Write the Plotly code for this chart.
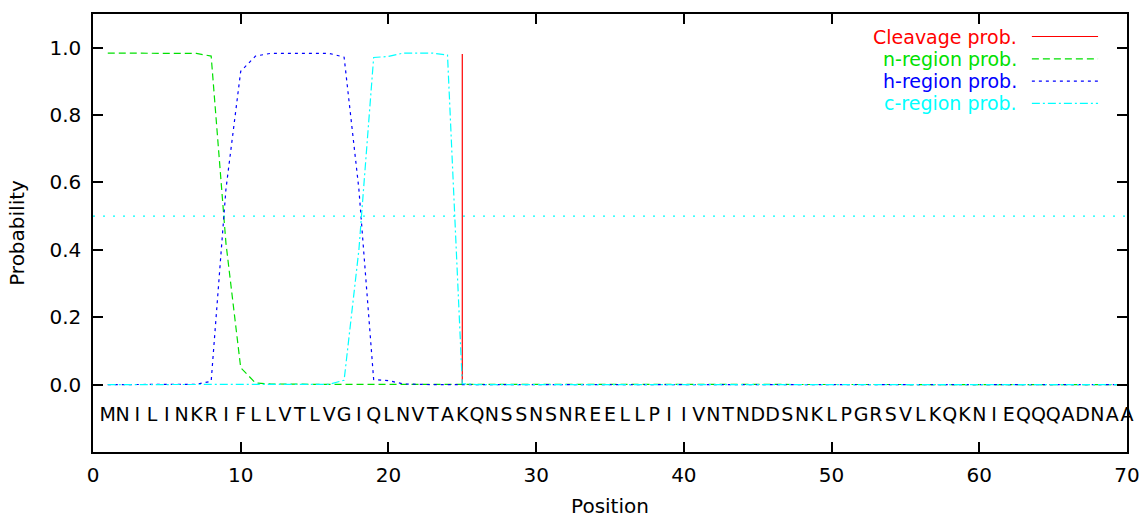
import plotly.graph_objects as go

# ---------------- data ----------------
sequence = "MNILINKRIFLLVTLVGIQLNVTAKQNSSNSNREELLPIIVNTNDDSNKLPGRSVLKQKNIEQQQADNAA"
positions = list(range(1, 71))

cleavage = [0.0, 0.0, 0.0, 0.0, 0.0, 0.0, 0.0, 0.0, 0.0, 0.0,
            0.0, 0.0, 0.0, 0.0, 0.0, 0.0, 0.0, 0.0, 0.0, 0.0,
            0.0, 0.0, 0.0, 0.0, 0.981, 0.0, 0.0, 0.0, 0.0, 0.0,
            0.0, 0.0, 0.0, 0.0, 0.0, 0.0, 0.0, 0.0, 0.0, 0.0,
            0.0, 0.0, 0.0, 0.0, 0.0, 0.0, 0.0, 0.0, 0.0, 0.0,
            0.0, 0.0, 0.0, 0.0, 0.0, 0.0, 0.0, 0.0, 0.0, 0.0,
            0.0, 0.0, 0.0, 0.0, 0.0, 0.0, 0.0, 0.0, 0.0, 0.0]

n_region = [0.984, 0.984, 0.984, 0.984, 0.984, 0.984, 0.983, 0.975, 0.42, 0.05,
            0.005, 0.002, 0.001, 0.001, 0.001, 0.001, 0.001, 0.0, 0.0, 0.0,
            0.0, 0.0, 0.0, 0.0, 0.0, 0.0, 0.0, 0.0, 0.0, 0.0,
            0.0, 0.0, 0.0, 0.0, 0.0, 0.0, 0.0, 0.0, 0.0, 0.0,
            0.0, 0.0, 0.0, 0.0, 0.0, 0.0, 0.0, 0.0, 0.0, 0.0,
            0.0, 0.0, 0.0, 0.0, 0.0, 0.0, 0.0, 0.0, 0.0, 0.0,
            0.0, 0.0, 0.0, 0.0, 0.0, 0.0, 0.0, 0.0, 0.0, 0.0]

h_region = [0.0, 0.0, 0.0, 0.0, 0.0, 0.0, 0.001, 0.01, 0.58, 0.93,
            0.975, 0.983, 0.983, 0.983, 0.983, 0.983, 0.972, 0.58, 0.015, 0.012,
            0.002, 0.0, 0.0, 0.0, 0.0, 0.0, 0.0, 0.0, 0.0, 0.0,
            0.0, 0.0, 0.0, 0.0, 0.0, 0.0, 0.0, 0.0, 0.0, 0.0,
            0.0, 0.0, 0.0, 0.0, 0.0, 0.0, 0.0, 0.0, 0.0, 0.0,
            0.0, 0.0, 0.0, 0.0, 0.0, 0.0, 0.0, 0.0, 0.0, 0.0,
            0.0, 0.0, 0.0, 0.0, 0.0, 0.0, 0.0, 0.0, 0.0, 0.0]

c_region = [0.0, 0.0, 0.0, 0.0, 0.0, 0.0, 0.0, 0.0, 0.0, 0.0,
            0.0, 0.0, 0.0, 0.0, 0.0, 0.001, 0.013, 0.40, 0.971, 0.974,
            0.984, 0.984, 0.984, 0.978, 0.003, 0.0, 0.0, 0.0, 0.0, 0.0,
            0.0, 0.0, 0.0, 0.0, 0.0, 0.0, 0.0, 0.0, 0.0, 0.0,
            0.0, 0.0, 0.0, 0.0, 0.0, 0.0, 0.0, 0.0, 0.0, 0.0,
            0.0, 0.0, 0.0, 0.0, 0.0, 0.0, 0.0, 0.0, 0.0, 0.0,
            0.0, 0.0, 0.0, 0.0, 0.0, 0.0, 0.0, 0.0, 0.0, 0.0]

series_names = ["Cleavage prob.", "n-region prob.", "h-region prob.", "c-region prob."]
threshold = 0.5
x_ticks = [0, 10, 20, 30, 40, 50, 60, 70]
y_ticks = [0.0, 0.2, 0.4, 0.6, 0.8, 1.0]
sequence_y = -0.095

# ---------------- styles ----------------
FONT = "DejaVu Sans, Liberation Sans, Arial, sans-serif"
FS = 20
RED, GREEN, BLUE, CYAN = "#ff0000", "#00e000", "#0000ff", "#00ffff"
DASH_N = "7px,4px"
DASH_H = "3px,4px"
DASH_C = "8px,3px,2px,3px"

fig = go.Figure()

# threshold dotted line
fig.add_shape(type="line", xref="x", yref="y", x0=x_ticks[0], x1=x_ticks[-1],
              y0=threshold, y1=threshold,
              line=dict(color=CYAN, width=1.2, dash="2px,8px"), layer="below")

# cleavage impulses
imp_x, imp_y = [], []
for p, v in zip(positions, cleavage):
    if v > 0:
        imp_x += [p, p, None]
        imp_y += [0, v, None]
fig.add_trace(go.Scatter(x=imp_x, y=imp_y, mode="lines", name=series_names[0],
                         line=dict(color=RED, width=1.2), showlegend=False))

fig.add_trace(go.Scatter(x=positions, y=n_region, mode="lines", name=series_names[1],
                         line=dict(color=GREEN, width=1.2, dash=DASH_N), showlegend=False))
fig.add_trace(go.Scatter(x=positions, y=h_region, mode="lines", name=series_names[2],
                         line=dict(color=BLUE, width=1.2, dash=DASH_H), showlegend=False))
fig.add_trace(go.Scatter(x=positions, y=c_region, mode="lines", name=series_names[3],
                         line=dict(color=CYAN, width=1.2, dash=DASH_C), showlegend=False))

# sequence letters
fig.add_trace(go.Scatter(x=positions, y=[sequence_y] * len(positions), mode="text",
                         text=list(sequence), textposition="middle center",
                         textfont=dict(family=FONT, size=19, color="black"),
                         showlegend=False, hoverinfo="skip", cliponaxis=False))

# manual gnuplot-style key (text right-aligned, sample on the right)
key_colors = [RED, GREEN, BLUE, CYAN]
key_dashes = ["solid", DASH_N, DASH_H, DASH_C]
key_rows = [0.9486, 0.8977, 0.8468, 0.7959]
for name, col, dsh, ry in zip(series_names, key_colors, key_dashes, key_rows):
    fig.add_annotation(xref="paper", yref="paper", x=0.8946, y=ry, text=name,
                       showarrow=False, xanchor="right", yanchor="middle", borderpad=0,
                       font=dict(family=FONT, size=19, color=col))
    fig.add_shape(type="line", xref="paper", yref="paper", x0=0.908, x1=0.972,
                  y0=ry, y1=ry, line=dict(color=col, width=1.2, dash=dsh))

axis_common = dict(showline=True, linecolor="black", linewidth=1.5, mirror="ticks",
                   ticks="inside", ticklen=10, tickwidth=1.5, tickcolor="black",
                   showgrid=False, zeroline=False, automargin=False,
                   tickfont=dict(family=FONT, size=FS, color="black"))

fig.update_xaxes(range=[x_ticks[0], x_ticks[-1]], tickvals=x_ticks,
                 title=dict(text="Position", font=dict(family=FONT, size=FS, color="black"),
                            standoff=20),
                 ticklabelstandoff=4, **axis_common)
fig.update_yaxes(range=[-0.2, 1.1], tickvals=y_ticks, tickformat=".1f",
                 title=dict(text="Probability", font=dict(family=FONT, size=FS, color="black"),
                            standoff=19),
                 ticklabelstandoff=6, **axis_common)

fig.update_layout(width=1142, height=518, plot_bgcolor="white", paper_bgcolor="white",
                  margin=dict(l=93, r=15, t=14, b=66, autoexpand=False), showlegend=False)

fig.write_html("out.html", config={"displayModeBar": False},
               post_script="document.body.style.margin='0px';document.body.style.overflow='hidden';")
